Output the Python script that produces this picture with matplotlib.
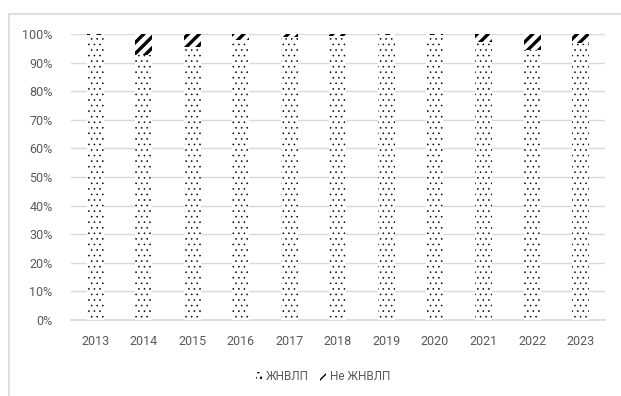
import matplotlib.pyplot as plt
import matplotlib as mpl
from matplotlib.patches import Patch, Rectangle

plt.rcParams['font.family'] = ['Roboto', 'DejaVu Sans']

# доли препаратов по годам, %
years = ['2013', '2014', '2015', '2016', '2017', '2018',
         '2019', '2020', '2021', '2022', '2023']
zhnvlp = [99.7, 92.7, 95.5, 98.0, 99.0, 99.3, 99.5, 99.7, 97.2, 94.4, 97.0]
ne_zhnvlp = [0.3, 7.3, 4.5, 2.0, 1.0, 0.7, 0.5, 0.3, 2.8, 5.6, 3.0]

text_color = '#595959'
grid_color = '#d9d9d9'

fig = plt.figure(figsize=(6.21, 3.96), dpi=100)
ax = fig.add_axes([0.114, 0.192, 0.86, 0.722])

# рамка области диаграммы
fig.patches.append(Rectangle((9 / 621, -0.1), 1.2, 1 - 14 / 396 + 0.1,
                             transform=fig.transFigure, fill=False,
                             edgecolor=grid_color, lw=1.2, zorder=0))

x = range(len(years))
w = 0.35
dot_lw, stripe_lw = 0.4, 2.4

with mpl.rc_context({'hatch.linewidth': dot_lw}):
    b1 = ax.bar(x, zhnvlp, w, color='white', hatch='...', zorder=3)
with mpl.rc_context({'hatch.linewidth': stripe_lw}):
    b2 = ax.bar(x, ne_zhnvlp, w, bottom=zhnvlp, color='white', hatch='///', zorder=3)
for bars, lw in ((b1, dot_lw), (b2, stripe_lw)):
    for p in bars:
        if hasattr(p, 'set_hatch_linewidth'):
            p.set_hatch_linewidth(lw)

ax.set_xlim(-0.5, len(years) - 0.5)
ax.set_ylim(0, 100)
ax.set_yticks(range(0, 101, 10))
ax.set_yticklabels([f'{v}%' for v in range(0, 101, 10)])
ax.set_xticks(list(x))
ax.set_xticklabels(years)
ax.tick_params(length=0, labelsize=9, colors=text_color)
ax.tick_params(axis='y', pad=13)
ax.tick_params(axis='x', pad=11)

ax.grid(axis='y', color=grid_color, lw=1, zorder=0)
ax.set_axisbelow(True)
for s in ['top', 'right', 'left']:
    ax.spines[s].set_visible(False)
ax.spines['bottom'].set_color(grid_color)
ax.spines['bottom'].set_linewidth(1.2)

handles = [Patch(facecolor='white', hatch='...', label='ЖНВЛП'),
           Patch(facecolor='white', hatch='///', label='Не ЖНВЛП')]
leg = fig.legend(handles=handles, loc='center', bbox_to_anchor=(0.52, 0.048),
                 ncol=2, frameon=False, fontsize=8.5, labelcolor=text_color,
                 handlelength=0.5, handleheight=0.8, handletextpad=0.3,
                 columnspacing=1.0)

plt.savefig('out.png', dpi=100)
